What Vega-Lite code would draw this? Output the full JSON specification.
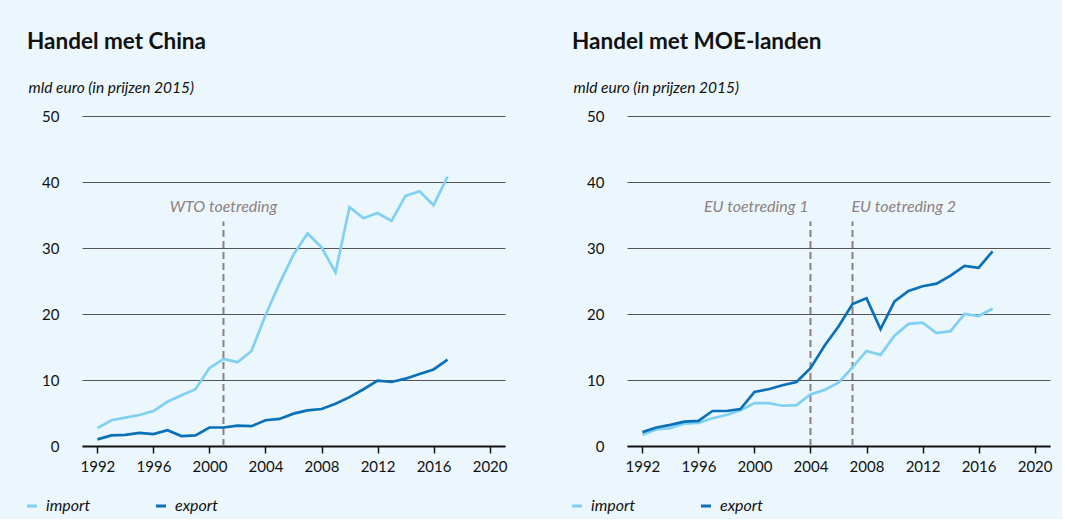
{
  "$schema": "https://vega.github.io/schema/vega-lite/v6.json",
  "background": "#EBF7FD",
  "padding": {"left": 24, "top": 30, "right": 10, "bottom": 5},
  "config": {
    "font": "Lato",
    "view": {"stroke": null},
    "concat": {"spacing": 62},
    "title": {"anchor": "start", "frame": "bounds", "fontSize": 22.5, "fontWeight": "bold", "color": "#111111", "offset": 27, "dx": 3},
    "axisX": {"format": "d", "title": null, "grid": false, "domainColor": "#111111", "domainWidth": 2, "tickColor": "#111111", "tickSize": 7, "tickWidth": 1.5, "labelFontSize": 15, "labelColor": "#111111", "labelPadding": 6},
    "axisY": {"grid": true, "gridColor": "#555555", "gridWidth": 1.2, "domain": false, "ticks": false, "labelFontSize": 15, "labelColor": "#111111", "labelPadding": 23, "titleAngle": 0, "titleAlign": "left", "titleBaseline": "alphabetic", "titleX": -54, "titleY": -24, "titleFontSize": 15.5, "titleFontStyle": "italic", "titleFontWeight": "normal", "titleColor": "#111111"},
    "legend": {"orient": "none", "legendX": -58, "legendY": 382, "direction": "horizontal", "title": null, "symbolType": "stroke", "symbolStrokeWidth": 3, "symbolSize": 100, "labelFontSize": 16, "labelFontStyle": "italic", "labelColor": "#111111", "labelOffset": 6, "columnPadding": 59, "padding": 0}
  },
  "datasets": {
    "china": [
      {"year": 1992, "series": "import", "value": 2.7},
      {"year": 1993, "series": "import", "value": 3.9},
      {"year": 1994, "series": "import", "value": 4.3},
      {"year": 1995, "series": "import", "value": 4.7},
      {"year": 1996, "series": "import", "value": 5.3},
      {"year": 1997, "series": "import", "value": 6.7},
      {"year": 1998, "series": "import", "value": 7.7},
      {"year": 1999, "series": "import", "value": 8.6},
      {"year": 2000, "series": "import", "value": 11.8},
      {"year": 2001, "series": "import", "value": 13.2},
      {"year": 2002, "series": "import", "value": 12.7},
      {"year": 2003, "series": "import", "value": 14.4},
      {"year": 2004, "series": "import", "value": 19.8},
      {"year": 2005, "series": "import", "value": 24.6},
      {"year": 2006, "series": "import", "value": 29.0},
      {"year": 2007, "series": "import", "value": 32.2},
      {"year": 2008, "series": "import", "value": 30.1},
      {"year": 2009, "series": "import", "value": 26.3},
      {"year": 2010, "series": "import", "value": 36.2},
      {"year": 2011, "series": "import", "value": 34.5},
      {"year": 2012, "series": "import", "value": 35.3},
      {"year": 2013, "series": "import", "value": 34.1},
      {"year": 2014, "series": "import", "value": 37.9},
      {"year": 2015, "series": "import", "value": 38.6},
      {"year": 2016, "series": "import", "value": 36.5},
      {"year": 2017, "series": "import", "value": 40.8},
      {"year": 1992, "series": "export", "value": 1.0},
      {"year": 1993, "series": "export", "value": 1.6},
      {"year": 1994, "series": "export", "value": 1.7},
      {"year": 1995, "series": "export", "value": 2.0},
      {"year": 1996, "series": "export", "value": 1.8},
      {"year": 1997, "series": "export", "value": 2.4},
      {"year": 1998, "series": "export", "value": 1.5},
      {"year": 1999, "series": "export", "value": 1.6},
      {"year": 2000, "series": "export", "value": 2.8},
      {"year": 2001, "series": "export", "value": 2.8},
      {"year": 2002, "series": "export", "value": 3.1},
      {"year": 2003, "series": "export", "value": 3.0},
      {"year": 2004, "series": "export", "value": 3.9},
      {"year": 2005, "series": "export", "value": 4.1},
      {"year": 2006, "series": "export", "value": 4.9},
      {"year": 2007, "series": "export", "value": 5.4},
      {"year": 2008, "series": "export", "value": 5.6},
      {"year": 2009, "series": "export", "value": 6.4},
      {"year": 2010, "series": "export", "value": 7.4},
      {"year": 2011, "series": "export", "value": 8.6},
      {"year": 2012, "series": "export", "value": 9.9},
      {"year": 2013, "series": "export", "value": 9.7},
      {"year": 2014, "series": "export", "value": 10.2},
      {"year": 2015, "series": "export", "value": 10.9},
      {"year": 2016, "series": "export", "value": 11.6},
      {"year": 2017, "series": "export", "value": 13.1}
    ],
    "moe": [
      {"year": 1992, "series": "import", "value": 1.7},
      {"year": 1993, "series": "import", "value": 2.5},
      {"year": 1994, "series": "import", "value": 2.7},
      {"year": 1995, "series": "import", "value": 3.4},
      {"year": 1996, "series": "import", "value": 3.5},
      {"year": 1997, "series": "import", "value": 4.2},
      {"year": 1998, "series": "import", "value": 4.7},
      {"year": 1999, "series": "import", "value": 5.4},
      {"year": 2000, "series": "import", "value": 6.5},
      {"year": 2001, "series": "import", "value": 6.5},
      {"year": 2002, "series": "import", "value": 6.1},
      {"year": 2003, "series": "import", "value": 6.2},
      {"year": 2004, "series": "import", "value": 7.8},
      {"year": 2005, "series": "import", "value": 8.5},
      {"year": 2006, "series": "import", "value": 9.6},
      {"year": 2007, "series": "import", "value": 11.9},
      {"year": 2008, "series": "import", "value": 14.4},
      {"year": 2009, "series": "import", "value": 13.8},
      {"year": 2010, "series": "import", "value": 16.7},
      {"year": 2011, "series": "import", "value": 18.5},
      {"year": 2012, "series": "import", "value": 18.7},
      {"year": 2013, "series": "import", "value": 17.1},
      {"year": 2014, "series": "import", "value": 17.4},
      {"year": 2015, "series": "import", "value": 20.0},
      {"year": 2016, "series": "import", "value": 19.7},
      {"year": 2017, "series": "import", "value": 20.8},
      {"year": 1992, "series": "export", "value": 2.1},
      {"year": 1993, "series": "export", "value": 2.8},
      {"year": 1994, "series": "export", "value": 3.2},
      {"year": 1995, "series": "export", "value": 3.7},
      {"year": 1996, "series": "export", "value": 3.8},
      {"year": 1997, "series": "export", "value": 5.3},
      {"year": 1998, "series": "export", "value": 5.3},
      {"year": 1999, "series": "export", "value": 5.6},
      {"year": 2000, "series": "export", "value": 8.2},
      {"year": 2001, "series": "export", "value": 8.6},
      {"year": 2002, "series": "export", "value": 9.2},
      {"year": 2003, "series": "export", "value": 9.7},
      {"year": 2004, "series": "export", "value": 11.8},
      {"year": 2005, "series": "export", "value": 15.2},
      {"year": 2006, "series": "export", "value": 18.1},
      {"year": 2007, "series": "export", "value": 21.5},
      {"year": 2008, "series": "export", "value": 22.4},
      {"year": 2009, "series": "export", "value": 17.7},
      {"year": 2010, "series": "export", "value": 21.9},
      {"year": 2011, "series": "export", "value": 23.5},
      {"year": 2012, "series": "export", "value": 24.2},
      {"year": 2013, "series": "export", "value": 24.6},
      {"year": 2014, "series": "export", "value": 25.8},
      {"year": 2015, "series": "export", "value": 27.3},
      {"year": 2016, "series": "export", "value": 27.0},
      {"year": 2017, "series": "export", "value": 29.5}
    ],
    "eventsChina": [{"year": 2001, "label": "WTO toetreding"}],
    "eventsMoe1": [{"year": 2004, "label": "EU toetreding 1"}],
    "eventsMoe2": [{"year": 2007, "label": "EU toetreding 2"}]
  },
  "resolve": {"legend": {"color": "independent"}, "scale": {"color": "independent"}},
  "hconcat": [
    {
      "width": 423,
      "height": 330,
      "title": {"text": "Handel met China"},
      "layer": [
        {
          "data": {"name": "eventsChina"},
          "mark": {"type": "rule", "strokeDash": [7, 4], "strokeWidth": 2, "color": "#8E8080"},
          "encoding": {
            "x": {"field": "year", "type": "quantitative", "scale": {"domain": [1990.9, 2021.1], "nice": false, "zero": false}, "axis": {"values": [1992, 1996, 2000, 2004, 2008, 2012, 2016, 2020]}},
            "y": {"datum": 0, "scale": {"domain": [0, 50], "nice": false}, "axis": {"values": [0, 10, 20, 30, 40, 50], "title": "mld euro (in prijzen 2015)"}},
            "y2": {"datum": 34}
          }
        },
        {
          "data": {"name": "eventsChina"},
          "mark": {"type": "text", "fontStyle": "italic", "fontSize": 16, "color": "#8E8080", "align": "center", "baseline": "middle"},
          "encoding": {
            "x": {"field": "year", "type": "quantitative"},
            "y": {"datum": 36.2},
            "text": {"field": "label"}
          }
        },
        {
          "data": {"name": "china"},
          "mark": {"type": "line", "strokeWidth": 2.7},
          "encoding": {
            "x": {"field": "year", "type": "quantitative"},
            "y": {"field": "value", "type": "quantitative"},
            "color": {"field": "series", "type": "nominal", "scale": {"domain": ["import", "export"], "range": ["#7FD0F2", "#0A71B8"]}}
          }
        }
      ]
    },
    {
      "width": 423,
      "height": 330,
      "title": {"text": "Handel met MOE-landen"},
      "layer": [
        {
          "data": {"name": "eventsMoe1"},
          "mark": {"type": "rule", "strokeDash": [7, 4], "strokeWidth": 2, "color": "#8E8080"},
          "encoding": {
            "x": {"field": "year", "type": "quantitative", "scale": {"domain": [1990.9, 2021.1], "nice": false, "zero": false}, "axis": {"values": [1992, 1996, 2000, 2004, 2008, 2012, 2016, 2020]}},
            "y": {"datum": 0, "scale": {"domain": [0, 50], "nice": false}, "axis": {"values": [0, 10, 20, 30, 40, 50], "title": "mld euro (in prijzen 2015)"}},
            "y2": {"datum": 34}
          }
        },
        {
          "data": {"name": "eventsMoe2"},
          "mark": {"type": "rule", "strokeDash": [7, 4], "strokeWidth": 2, "color": "#8E8080"},
          "encoding": {
            "x": {"field": "year", "type": "quantitative"},
            "y": {"datum": 0},
            "y2": {"datum": 34}
          }
        },
        {
          "data": {"name": "eventsMoe1"},
          "mark": {"type": "text", "fontStyle": "italic", "fontSize": 16, "color": "#8E8080", "align": "right", "baseline": "middle", "dx": -2},
          "encoding": {
            "x": {"field": "year", "type": "quantitative"},
            "y": {"datum": 36.2},
            "text": {"field": "label"}
          }
        },
        {
          "data": {"name": "eventsMoe2"},
          "mark": {"type": "text", "fontStyle": "italic", "fontSize": 16, "color": "#8E8080", "align": "left", "baseline": "middle", "dx": -1},
          "encoding": {
            "x": {"field": "year", "type": "quantitative"},
            "y": {"datum": 36.2},
            "text": {"field": "label"}
          }
        },
        {
          "data": {"name": "moe"},
          "mark": {"type": "line", "strokeWidth": 2.7},
          "encoding": {
            "x": {"field": "year", "type": "quantitative"},
            "y": {"field": "value", "type": "quantitative"},
            "color": {"field": "series", "type": "nominal", "scale": {"domain": ["import", "export"], "range": ["#7FD0F2", "#0A71B8"]}}
          }
        }
      ]
    }
  ]
}
